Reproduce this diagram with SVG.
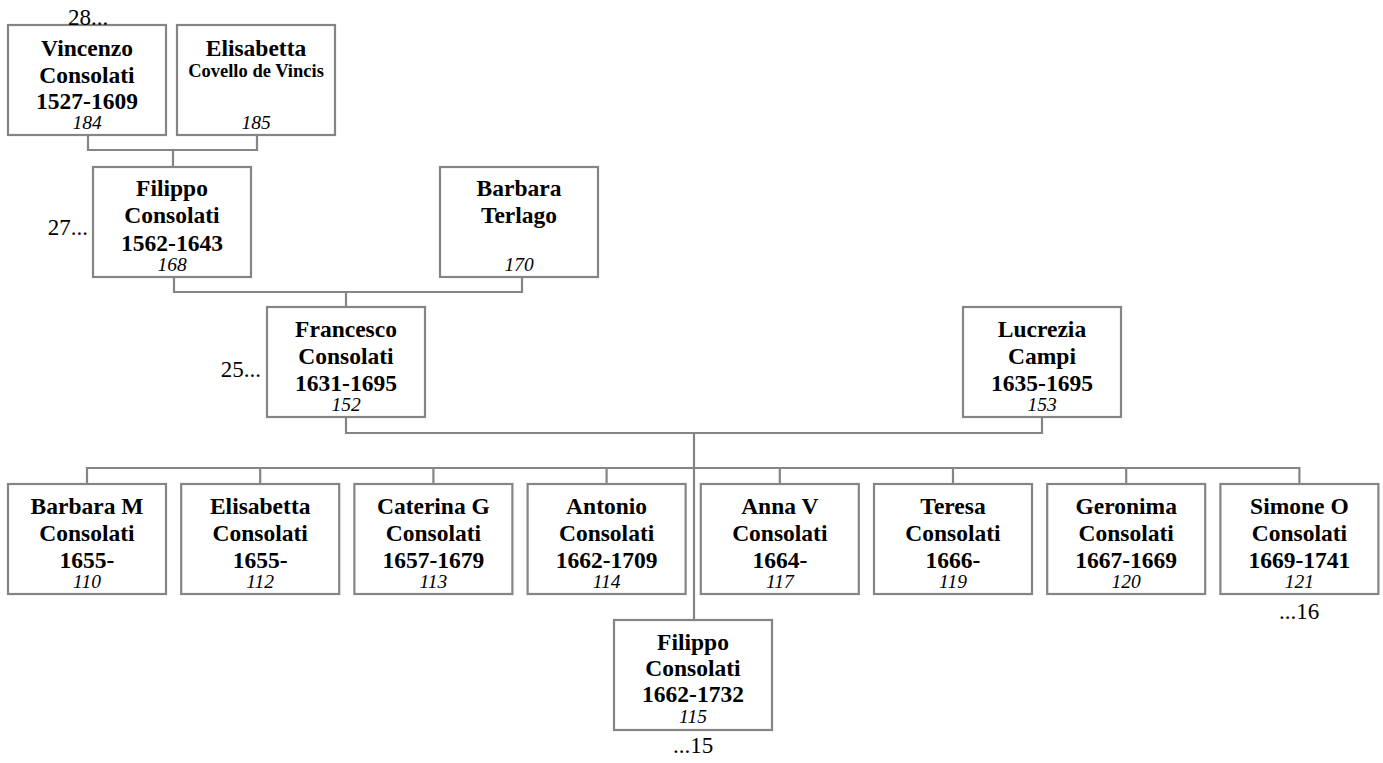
<svg xmlns="http://www.w3.org/2000/svg" width="1383" height="763" viewBox="0 0 1383 763">
<style>
.box{fill:#fff;stroke:#858585;stroke-width:2.2}
.ln{fill:none;stroke:#858585;stroke-width:2.2}
text{font-family:"Liberation Serif","Times New Roman",serif;fill:#000;text-anchor:middle}
.n{font-weight:bold;font-size:23.5px}
.s{font-weight:bold;font-size:18.5px}
.i{font-style:italic;font-size:19.5px}
.r{font-size:23px}
</style>
<rect width="1383" height="763" fill="#fff"/>
<g id="connectors">
<path class="ln" d="M88 135V150H257V135M173 150V167"/>
<path class="ln" d="M174 277V292H522V277M346 292V307"/>
<path class="ln" d="M346 417V433H1042V417M694 433V620"/>
<path class="ln" d="M87 484V468H1299.4V484M260.2 468V484M433.4 468V484M606.6 468V484M779.8 468V484M953 468V484M1126.2 468V484"/>
</g>
<g id="n184"><rect class="box" x="8" y="25" width="158" height="110"/>
<text class="n" x="87" y="56">Vincenzo</text><text class="n" x="87" y="83">Consolati</text><text class="n" x="87" y="109">1527-1609</text><text class="i" x="87" y="129">184</text></g>
<g id="n185"><rect class="box" x="177" y="25" width="158" height="110"/>
<text class="n" x="256" y="56">Elisabetta</text><text class="s" x="256" y="77">Covello de Vincis</text><text class="i" x="256" y="129">185</text></g>
<g id="n168"><rect class="box" x="93" y="167" width="158" height="110"/>
<text class="n" x="172" y="196">Filippo</text><text class="n" x="172" y="223">Consolati</text><text class="n" x="172" y="251">1562-1643</text><text class="i" x="172" y="271">168</text></g>
<g id="n170"><rect class="box" x="440" y="167" width="158" height="110"/>
<text class="n" x="519" y="196">Barbara</text><text class="n" x="519" y="223">Terlago</text><text class="i" x="519" y="271">170</text></g>
<g id="n152"><rect class="box" x="267" y="307" width="158" height="110"/>
<text class="n" x="346" y="337">Francesco</text><text class="n" x="346" y="364">Consolati</text><text class="n" x="346" y="391">1631-1695</text><text class="i" x="346" y="411">152</text></g>
<g id="n153"><rect class="box" x="963" y="307" width="158" height="110"/>
<text class="n" x="1042" y="337">Lucrezia</text><text class="n" x="1042" y="364">Campi</text><text class="n" x="1042" y="391">1635-1695</text><text class="i" x="1042" y="411">153</text></g>
<g id="n110"><rect class="box" x="8" y="484" width="158" height="110"/>
<text class="n" x="87" y="514">Barbara M</text><text class="n" x="87" y="541">Consolati</text><text class="n" x="87" y="568">1655-</text><text class="i" x="87" y="588">110</text></g>
<g id="n112"><rect class="box" x="181.2" y="484" width="158" height="110"/>
<text class="n" x="260.2" y="514">Elisabetta</text><text class="n" x="260.2" y="541">Consolati</text><text class="n" x="260.2" y="568">1655-</text><text class="i" x="260.2" y="588">112</text></g>
<g id="n113"><rect class="box" x="354.4" y="484" width="158" height="110"/>
<text class="n" x="433.4" y="514">Caterina G</text><text class="n" x="433.4" y="541">Consolati</text><text class="n" x="433.4" y="568">1657-1679</text><text class="i" x="433.4" y="588">113</text></g>
<g id="n114"><rect class="box" x="527.6" y="484" width="158" height="110"/>
<text class="n" x="606.6" y="514">Antonio</text><text class="n" x="606.6" y="541">Consolati</text><text class="n" x="606.6" y="568">1662-1709</text><text class="i" x="606.6" y="588">114</text></g>
<g id="n117"><rect class="box" x="700.8" y="484" width="158" height="110"/>
<text class="n" x="779.8" y="514">Anna V</text><text class="n" x="779.8" y="541">Consolati</text><text class="n" x="779.8" y="568">1664-</text><text class="i" x="779.8" y="588">117</text></g>
<g id="n119"><rect class="box" x="874" y="484" width="158" height="110"/>
<text class="n" x="953" y="514">Teresa</text><text class="n" x="953" y="541">Consolati</text><text class="n" x="953" y="568">1666-</text><text class="i" x="953" y="588">119</text></g>
<g id="n120"><rect class="box" x="1047.2" y="484" width="158" height="110"/>
<text class="n" x="1126.2" y="514">Geronima</text><text class="n" x="1126.2" y="541">Consolati</text><text class="n" x="1126.2" y="568">1667-1669</text><text class="i" x="1126.2" y="588">120</text></g>
<g id="n121"><rect class="box" x="1220.4" y="484" width="158" height="110"/>
<text class="n" x="1299.4" y="514">Simone O</text><text class="n" x="1299.4" y="541">Consolati</text><text class="n" x="1299.4" y="568">1669-1741</text><text class="i" x="1299.4" y="588">121</text></g>
<g id="n115"><rect class="box" x="614" y="620" width="158" height="110"/>
<text class="n" x="693" y="650">Filippo</text><text class="n" x="693" y="676">Consolati</text><text class="n" x="693" y="702">1662-1732</text><text class="i" x="693" y="723">115</text></g>
<g id="refs">
<text class="r" x="88" y="25">28...</text>
<text class="r" x="88" y="235" style="text-anchor:end">27...</text>
<text class="r" x="261" y="377" style="text-anchor:end">25...</text>
<text class="r" x="693" y="753">...15</text>
<text class="r" x="1299" y="619">...16</text>
</g>
</svg>
